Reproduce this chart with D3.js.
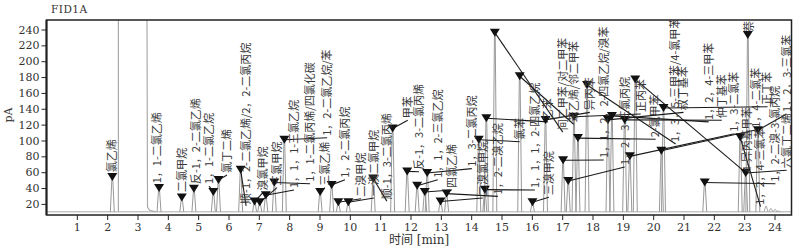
<!DOCTYPE html>
<html>
<head>
<meta charset="utf-8">
<script src="https://cdn.jsdelivr.net/npm/d3@7"></script>
<style>
body{margin:0;background:#fff;}
.tick text{font-family:"DejaVu Serif",serif;font-size:11px;fill:#333;}
.tick line{stroke:#222;}
</style>
</head>
<body>
<div class="chromChart"></div>
<script>

// peak table (retention time in min, height in pA)
var peakTimes = [2.17, 3.71, 4.46, 4.86, 5.5, 5.67, 6.4, 6.86, 7.03, 7.23, 7.51, 7.84,
	9.02, 9.40, 9.62, 9.95, 10.77, 11.41, 11.89, 12.22, 12.47, 12.55, 12.99, 13.19,
	14.25, 14.45, 14.5, 14.78, 15.6, 16.02, 16.45, 17.03, 17.2, 17.39, 17.52, 17.82,
	18.51, 18.64, 19.06, 19.23, 19.41, 20.27, 20.34, 21.7, 22.87, 23.05, 23.12, 23.45];

var peakHeights = [54, 40, 28, 39, 35, 50, 63, 23, 22, 31, 47, 101,
	35, 44, 22, 22, 52, 115, 61, 43, 35, 59, 23, 33,
	101, 38, 128, 236, 181, 22, 126, 75, 49, 130, 103, 170,
	126, 131, 126, 80, 177, 87, 141, 47, 104, 59, 233, 113];

var peakNames = ["氯乙烯", "1，1-二氯乙烯", "二氯甲烷", "反-1，2-二氯乙烯", "1，1-二氯乙烷", "氯丁二烯",
	"顺-1，2-二氯乙烯/2，2-二氯丙烷", "溴氯甲烷", "三氯甲烷", "1，1，1-三氯乙烷", "1，1-二氯丙烯/四氯化碳", "1，2-二氯乙烷/苯",
	"三氯乙烯", "1，2-二氯丙烷", "二溴甲烷", "一溴二氯甲烷", "顺-1，3-二氯丙烯", "甲苯",
	"反-1，3-二氯丙烯", "1，1，2-三氯乙烷", "四氯乙烯", "1，3-二氯丙烷", "二溴氯甲烷", "1，2-二溴乙烷",
	"氯苯", "1，1，1，2-四氯乙烷", "乙苯", "间二甲苯/对二甲苯", "苯乙烯/邻二甲苯", "三溴甲烷",
	"异丙苯", "1，1，2，2-四氯乙烷/溴苯", "1，2，3-三氯丙烷", "正丙苯", "2-氯甲苯", "1，3，5-三甲苯/4-氯甲苯",
	"叔丁基苯", "1，2，4-三甲苯", "仲丁基苯", "1，3-二氯苯", "4-异丙基甲苯", "1，4-二氯苯",
	"正丁苯", "1，2-二溴-3-氯丙烷", "1，2，4-三氯苯", "六氯丁二烯", "萘", "1，2，3-三氯苯"];

// where each annotation starts, in the chart's own units (min, pA)
var labelTimes = [2.16, 3.65, 4.47, 4.93, 5.36, 5.95, 6.58, 7.14, 7.6, 8.16, 8.69, 9.25,
	9.18, 9.84, 10.37, 10.79, 11.22, 11.91, 12.28, 12.9, 13.36, 14.02, 14.38, 14.88,
	15.6, 16.1, 16.53, 17.02, 17.38, 16.56, 17.91, 18.37, 19.06, 19.59, 20.08, 20.74,
	21.0, 21.83, 22.26, 22.68, 23.11, 23.41, 23.77, 24.03, 23.54, 24.4, 23.18, 24.4];

var labelLevels = [60, 46, 35, 45, 45, 59, 20, 37, 43, 40, 48, 106,
	43, 53, 29, 30, 26, 128, 63, 53, 40, 67, 30, 32,
	101, 40, 126, 113, 123, 31, 138, 78, 69, 136, 104, 98,
	138, 126, 128, 111, 60, 116, 145, 48, 19, 65, 237, 136];

// solvent front, goes off scale
var solventTimes = [2.37, 2.37, 3.31, 3.33, 3.4, 3.6];
var solventSignal = [10, 300, 300, 16, 12, 10];

// small unlabelled bumps at the end of the run
var bumpTimes = [23.72, 23.88, 24.02, 24.13];
var bumpHeights = [17, 14, 13, 11];

var baseSignal = 10;
var xTicks = d3.range(1, 25);
var yTicks = [20, 40, 60, 80, 100, 120, 140, 160, 180, 200, 220, 240];

var svgSettings = {width: 800, height: 250};
var plot = {left: 46.5, right: 791.5, top: 20, bottom: 215};

var svg = d3.select(".chromChart")
	.append("svg")
	.attr("width", svgSettings.width)
	.attr("height", svgSettings.height)
	.style("font-family", "'Noto Sans CJK SC', sans-serif");

var x = d3.scaleLinear().domain([0, 24.56]).range([plot.left, plot.right]);
var y = d3.scaleLinear().domain([6, 252]).range([plot.bottom, plot.top]);

svg.append("clipPath").attr("id", "plotClip")
	.append("rect")
	.attr("x", plot.left).attr("y", plot.top)
	.attr("width", plot.right - plot.left).attr("height", plot.bottom - plot.top);

var g = svg.append("g").attr("clip-path", "url(#plotClip)");

var line = d3.line()
	.x(function(d){ return x(d[0]); })
	.y(function(d){ return y(d[1]); });

// baseline
g.append("path")
	.attr("d", line([[0, baseSignal], [24.56, baseSignal]]))
	.attr("fill", "none").attr("stroke", "#aaa").attr("stroke-width", 1);

// solvent
g.append("path")
	.attr("d", line(solventTimes.map(function(t, i){ return [t, solventSignal[i]]; })))
	.attr("fill", "none").attr("stroke", "#aaa").attr("stroke-width", 1.2);

var halfWidth = 0.065;

function spike(t, h){
	return line([[t - halfWidth, baseSignal], [t - 0.012, h], [t + 0.012, h], [t + halfWidth, baseSignal]]);
}

g.selectAll("path.peak")
	.data(peakTimes)
	.enter()
	.append("path")
		.attr("class", "peak")
		.attr("d", function(d, i){ return spike(d, peakHeights[i]); })
		.attr("fill", "none")
		.attr("stroke", "#999")
		.attr("stroke-width", 1);

g.selectAll("path.bump")
	.data(bumpTimes)
	.enter()
	.append("path")
		.attr("class", "bump")
		.attr("d", function(d, i){ return spike(d, bumpHeights[i]); })
		.attr("fill", "none")
		.attr("stroke", "#aaa")
		.attr("stroke-width", 1);

// leader lines
g.selectAll("line.leader")
	.data(peakTimes)
	.enter()
	.append("line")
		.attr("class", "leader")
		.attr("x1", function(d){ return x(d); })
		.attr("y1", function(d, i){ return y(peakHeights[i]); })
		.attr("x2", function(d, i){ return x(labelTimes[i]); })
		.attr("y2", function(d, i){ return y(labelLevels[i]) + 2; })
		.attr("stroke", "#1a1a1a")
		.attr("stroke-width", 1.1);

// markers
g.selectAll("path.marker")
	.data(peakTimes)
	.enter()
	.append("path")
		.attr("class", "marker")
		.attr("d", function(d, i){
			var px = x(d), py = y(peakHeights[i]);
			return "M" + (px - 5) + "," + (py - 4) + "L" + (px + 5) + "," + (py - 4) + "L" + px + "," + (py + 4) + "Z";
		})
		.attr("fill", "#111");

// compound names
g.selectAll("text.name")
	.data(peakNames)
	.enter()
	.append("text")
		.attr("class", "name")
		.attr("transform", function(d, i){
			return "translate(" + x(labelTimes[i]) + "," + y(labelLevels[i]) + ") rotate(-90)";
		})
		.attr("dy", "0.35em")
		.attr("font-size", 11)
		.attr("fill", "#3a3a3a")
		.text(function(d){ return d; });

// axes
svg.append("g")
	.attr("transform", "translate(0," + plot.bottom + ")")
	.call(d3.axisBottom(x).tickValues(xTicks).tickSize(5).tickPadding(3).tickFormat(d3.format("d")))
	.call(function(a){ a.select(".domain").remove(); });

svg.append("g")
	.attr("transform", "translate(" + plot.left + ",0)")
	.call(d3.axisLeft(y).tickValues(yTicks).tickSize(5).tickPadding(2).tickFormat(d3.format("d")))
	.call(function(a){ a.select(".domain").remove(); });

svg.append("rect")
	.attr("x", plot.left).attr("y", plot.top)
	.attr("width", plot.right - plot.left).attr("height", plot.bottom - plot.top)
	.attr("fill", "none").attr("stroke", "#222").attr("stroke-width", 1.5);

svg.append("line")
	.attr("x1", plot.left).attr("x2", plot.left)
	.attr("y1", plot.top).attr("y2", plot.bottom)
	.attr("stroke", "#222").attr("stroke-width", 2);

svg.append("text")
	.attr("x", 51).attr("y", 13)
	.attr("font-family", "'DejaVu Serif', serif")
	.attr("font-size", 10.5)
	.attr("letter-spacing", 0.5)
	.attr("fill", "#333")
	.text("FID1A");

svg.append("text")
	.attr("transform", "translate(12,115) rotate(-90)")
	.attr("text-anchor", "middle")
	.attr("font-family", "'DejaVu Serif', serif")
	.attr("font-size", 11)
	.attr("fill", "#333")
	.text("pA");

svg.append("text")
	.attr("x", (plot.left + plot.right) / 2).attr("y", 244)
	.attr("text-anchor", "middle")
	.attr("font-family", "'DejaVu Serif', 'Noto Sans CJK SC', serif")
	.attr("font-size", 12)
	.attr("fill", "#333")
	.text("时间 [min]");

</script>
</body>
</html>
